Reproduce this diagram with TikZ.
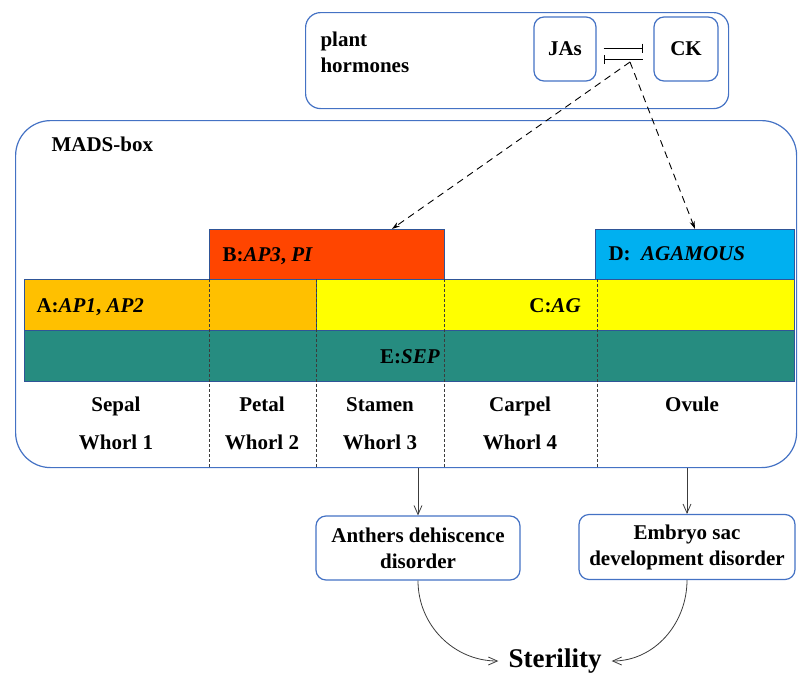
\documentclass[tikz,border=0pt]{standalone}
\usepackage{fontspec}
\setmainfont{Liberation Serif}
\usetikzlibrary{arrows.meta,calc}
\definecolor{frameblue}{RGB}{68,114,196}
\definecolor{edgeblue}{RGB}{47,85,151}
\definecolor{bred}{RGB}{255,69,0}
\definecolor{dblue}{RGB}{0,176,240}
\definecolor{aorange}{RGB}{255,192,0}
\definecolor{cyellow}{RGB}{255,255,0}
\definecolor{eteal}{RGB}{38,140,128}
\definecolor{linegray}{RGB}{60,60,60}

\begin{document}
\begin{tikzpicture}[x=1pt,y=-1pt,
  every node/.style={font=\fontsize{21pt}{26pt}\selectfont\bfseries},
  frame/.style={draw=frameblue,line width=1.2pt},
  tile/.style={draw=edgeblue,line width=1pt,anchor=north west,inner sep=0pt},
  smallbox/.style={frame,rounded corners=10pt,inner sep=0pt},
  whorl/.style={draw=linegray,dash pattern=on 3pt off 2pt,line width=0.6pt},
  link/.style={draw=linegray,line width=0.8pt,-{Straight Barb[length=9pt,width=8pt]}},
  hint/.style={draw=black,line width=0.9pt,dash pattern=on 7pt off 5pt,-{Stealth[length=8pt,width=5pt]}}]
  \useasboundingbox (0,0) rectangle (798,675);
  \node[frame,rounded corners=15pt,minimum width=423pt,minimum height=96pt,anchor=north west] (horm) at (305,12) {};
  \node[anchor=base west,align=left] (hormtxt) at (317,72) {plant\\hormones};
  \node[smallbox,minimum width=62pt,minimum height=64pt] (JAs) at (565,49) {JAs};
  \node[smallbox,minimum width=64pt,minimum height=64pt] (CK) at (686,49) {CK};
  \draw[line width=1pt,-{Bar[width=9pt]}] ([shift={(7,-1)}]JAs.east) -- ([shift={(-10,-1)}]CK.west);
  \draw[line width=1pt,{Bar[width=9pt]}-] ([shift={(7,10)}]JAs.east) -- ([shift={(-10,10)}]CK.west);
  \coordinate (hub) at (630,62);

  \node[frame,rounded corners=35pt,minimum width=781pt,minimum height=347pt,anchor=north west] (mads) at (15,120) {};
  \node[anchor=base west] (madstxt) at (48,151) {MADS-box};
  \node[tile,fill=bred,minimum width=235pt,minimum height=50pt] (B) at (209,229) {};
  \node[tile,fill=dblue,minimum width=199pt,minimum height=50pt] (D) at (595,229) {};
  \node[tile,fill=aorange,minimum width=292pt,minimum height=51pt] (A) at (24,279) {};
  \node[tile,fill=cyellow,minimum width=478pt,minimum height=51pt] (C) at (316,279) {};
  \node[tile,fill=eteal,minimum width=770pt,minimum height=51pt] (E) at (24,330) {};
  \node[anchor=base west] (Btxt) at (219,261) {B:\textit{AP3}, \textit{PI}};
  \node[anchor=base west] (Dtxt) at (605,260) {D:\ \ \textit{AGAMOUS}};
  \node[anchor=base west] (Atxt) at (33,312) {A:\textit{AP1}, \textit{AP2}};
  \node[anchor=base] (Ctxt) at (555,312) {C:\textit{AG}};
  \node[anchor=base] (Etxt) at (410,363) {E:\textit{SEP}};
  \foreach \x in {209,316,444,597}
    \draw[whorl] (\x,279) -- (\x,467);
  \foreach \x/\organ/\w in {116/Sepal/1,262/Petal/2,380/Stamen/3,520/Carpel/4}{
    \node[anchor=base] (organ\w) at (\x,411) {\organ};
    \node[anchor=base] (whorl\w) at (\x,449) {Whorl \w};
  }
  \node[anchor=base] (organ5) at (692,411) {Ovule};

  \draw[hint] (hub) -- ($(B.north)!0.55!(B.north east)$);
  \draw[hint] (hub) -- (D.north);

  \node[smallbox,minimum width=204pt,minimum height=64pt,align=center] (anth) at (418,548) {Anthers dehiscence\\disorder};
  \node[smallbox,minimum width=216pt,minimum height=65pt,align=center] (embryo) at (687,547) {Embryo sac\\development disorder};
  \node[font=\fontsize{27pt}{30pt}\selectfont\bfseries,inner sep=10pt] (steril) at (555,661) {Sterility};
  \draw[link] (anth.north |- mads.south) -- (anth);
  \draw[link] (embryo.north |- mads.south) -- (embryo);
  \draw[link] (anth.south) to[out=-90,in=180] (steril.west);
  \draw[link] (embryo.south) to[out=-90,in=0] (steril.east);
\end{tikzpicture}
\end{document}
